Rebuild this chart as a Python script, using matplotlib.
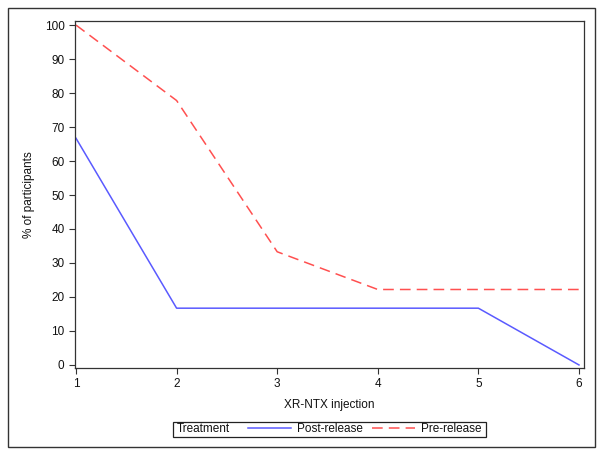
import matplotlib
matplotlib.use("Agg")
import matplotlib.pyplot as plt
from matplotlib.patches import Rectangle

injection = [1, 2, 3, 4, 5, 6]
post_release = [66.7, 16.7, 16.7, 16.7, 16.7, 0.0]
pre_release = [100.0, 77.8, 33.3, 22.2, 22.2, 22.2]
yticks = list(range(0, 101, 10))

plt.rcParams['font.family'] = ['Liberation Sans', 'DejaVu Sans']

fig = plt.figure(figsize=(6.04, 4.57), dpi=100)
ax = fig.add_axes([75/604, 1 - 368/457, (584-75)/604, (368-21)/457])

ax.plot(injection, post_release, color='#5a5aff', lw=1.1, label='Post-release')
ax.plot(injection, pre_release, color='#ff5050', lw=1.1, dashes=(7, 4), label='Pre-release')

ax.set_xlim(0.99, 6.05)
ax.set_ylim(-0.9, 101.2)
ax.set_xticks(injection)
ax.set_yticks(yticks)
ax.tick_params(direction='out', length=4, width=0.8, labelsize=8.5,
               color='#333333', labelcolor='#111111')
ax.set_xlabel('XR-NTX injection', fontsize=8.5, labelpad=6, color='#111111')
ax.set_ylabel('% of participants', fontsize=8.5, labelpad=7, color='#111111')
for s in ax.spines.values():
    s.set_color('#333333')
    s.set_linewidth(0.9)

# outer border
fig.patches.append(Rectangle((8/604, 1 - 447/457), (595-8)/604, (447-8)/457,
                             transform=fig.transFigure, fill=False,
                             edgecolor='#333333', lw=1.0))

# legend box with "Treatment" label
fig.patches.append(Rectangle((173/604, 1 - 437/457), (486-173)/604, 15/457,
                             transform=fig.transFigure, fill=False,
                             edgecolor='#222222', lw=0.9))
fig.text(177/604, 1 - 429.5/457, 'Treatment', fontsize=8.5, va='center', ha='left',
         color='#111111')
h, l = ax.get_legend_handles_labels()
leg = fig.legend(h, l, ncol=2, frameon=False, fontsize=8.5,
                 loc='center left', bbox_to_anchor=(248/604, 1 - 429.5/457),
                 handlelength=3.6, handletextpad=0.55, columnspacing=0.8,
                 borderpad=0, borderaxespad=0)
for t in leg.get_texts():
    t.set_color('#111111')

fig.savefig('out.png', dpi=100)
